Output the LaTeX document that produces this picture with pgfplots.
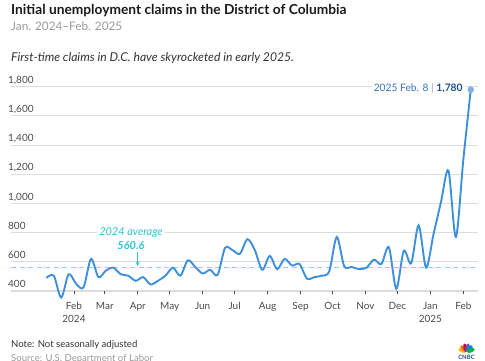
\documentclass[border=0pt]{standalone}
\usepackage{fontspec}
\setmainfont{Lato}
\usepackage{pgfplots}
\pgfplotsset{compat=1.18}
\definecolor{lineblue}{HTML}{3F90DA}
\definecolor{gridgray}{HTML}{DCDCDC}
\definecolor{ticklab}{HTML}{4A4A4A}
\definecolor{titlecol}{HTML}{1A1A1A}
\definecolor{subgray}{HTML}{9A9A9A}
\definecolor{italcol}{HTML}{333333}
\definecolor{avgteal}{HTML}{2EC4D0}
\definecolor{avgdash}{HTML}{7FDBF0}
\definecolor{endblue}{HTML}{3A76BC}
\definecolor{enddark}{HTML}{1C4E8C}
\definecolor{dotblue}{HTML}{7FB3E6}
\newcommand{\twol}[2]{\begin{tabular}[t]{@{}c@{}}#1\\#2\end{tabular}}
\pgfplotstableread{
day claims
5 490
12 505
19 355
26 515
33 450
40 425
47 620
54 495
61 540
68 560
75 515
82 505
89 470
96 495
103 445
110 470
117 505
124 560
131 505
138 610
145 565
152 520
159 545
166 510
173 695
180 680
187 655
194 755
201 680
208 545
215 640
222 550
229 620
236 575
243 585
250 485
257 495
264 505
271 535
278 770
285 570
292 565
299 550
306 560
313 615
320 585
327 700
334 415
341 675
348 590
355 850
362 560
369 790
376 1010
383 1225
390 770
397 1300
404 1780
}\claims
\begin{document}
\begin{tikzpicture}[x=1bp,y=1bp]
\path[use as bounding box] (0,0) rectangle (485,-360);
\node[anchor=base west, inner sep=0, font=\bfseries\fontsize{13.8}{16}\selectfont, text=titlecol] at (11,-14) {Initial unemployment claims in the District of Columbia};
\node[anchor=base west, inner sep=0, font=\fontsize{11.8}{13}\selectfont, text=subgray] at (11,-30.7) {Jan. 2024–Feb. 2025};
\node[anchor=base west, inner sep=0, font=\itshape\fontsize{12.2}{14}\selectfont, text=italcol] at (11,-61.7) {First-time claims in D.C. have skyrocketed in early 2025.};
\node[anchor=base west, inner sep=0, font=\fontsize{9.6}{11}\selectfont, text=italcol] at (11,-347.3) {Note: Not seasonally adjusted};
\node[anchor=base west, inner sep=0, font=\fontsize{9.6}{11}\selectfont, text=subgray] at (11,-361.5) {Source: U.S. Department of Labor};
% CNBC peacock
\begin{scope}[shift={(466.5,-352)}]
\foreach \ang/\col in {160/FCB711,132/F37021,104/CC004C,76/6460AA,48/0089D0,20/0DB14B}{
  \definecolor{feather}{HTML}{\col}
  \fill[feather, rotate=\ang] (4.5,0) ellipse (4.2 and 2.1);
}
\node[anchor=base, inner sep=0, font=\bfseries\fontsize{6}{7}\selectfont, text=enddark] at (0,-7.5) {CNBC};
\end{scope}
\begin{axis}[
  at={(11bp,-291bp)}, anchor=south west,
  scale only axis, width=467bp, height=204.3bp,
  xmin=-28.2, xmax=410.8, ymin=400, ymax=1800,
  clip=false,
  axis line style={draw=none},
  ytick={400,600,...,1800},
  ymajorgrids, grid style={color=gridgray, line width=1.1bp},
  xtick={31,60,91,121,152,182,213,244,274,305,335,366,397},
  xticklabels={{\twol{Feb}{2024}},Mar,Apr,May,Jun,Jul,Aug,Sep,Oct,Nov,Dec,{\twol{Jan}{2025}},Feb},
  xtick pos=bottom, ytick pos=left,
  tick align=outside, major tick length=3bp,
  x tick style={color=ticklab, line width=0.9bp},
  y tick style={draw=none},
  xticklabel style={font=\fontsize{10}{13}\selectfont, text=ticklab, anchor=base, inner sep=0pt, yshift=-15.3bp},
  yticklabel style={font=\fontsize{10}{12}\selectfont, text=ticklab, anchor=base west, inner sep=0pt, xshift=0bp, yshift=3.4bp},
  /pgf/number format/1000 sep={,},
  /pgf/number format/assume math mode=true,
]
\addplot[avgdash, line width=1.1bp, dash pattern=on 5bp off 3.5bp] coordinates {(-28.2,560.6) (410.8,560.6)};
\addplot[lineblue, line width=1.9bp, smooth, tension=0.5] table[x=day, y=claims] {\claims};
\addplot[only marks, mark=*, mark size=3bp, dotblue, mark options={draw=dotblue, fill=dotblue}] coordinates {(404,1780)};
\node[font=\itshape\fontsize{11}{12}\selectfont, text=avgteal, fill=white, inner xsep=2bp, inner ysep=1bp] at (axis cs:84.6,804) {2024 average};
\node[font=\bfseries\itshape\fontsize{11}{12}\selectfont, text=avgteal, inner sep=0] at (axis cs:84.6,715) {560.6};
\draw[avgteal, line width=0.9bp, -stealth] (axis cs:90.9,665) -- (axis cs:90.9,572);
\node[anchor=east, fill=white, inner xsep=2bp, inner ysep=1bp, font=\fontsize{10.3}{12}\selectfont] at (axis cs:398.4,1785) {\textcolor{endblue}{2025 Feb. 8} \textcolor{subgray}{|} \textcolor{enddark}{\bfseries 1,780}};
\end{axis}
\end{tikzpicture}
\end{document}
